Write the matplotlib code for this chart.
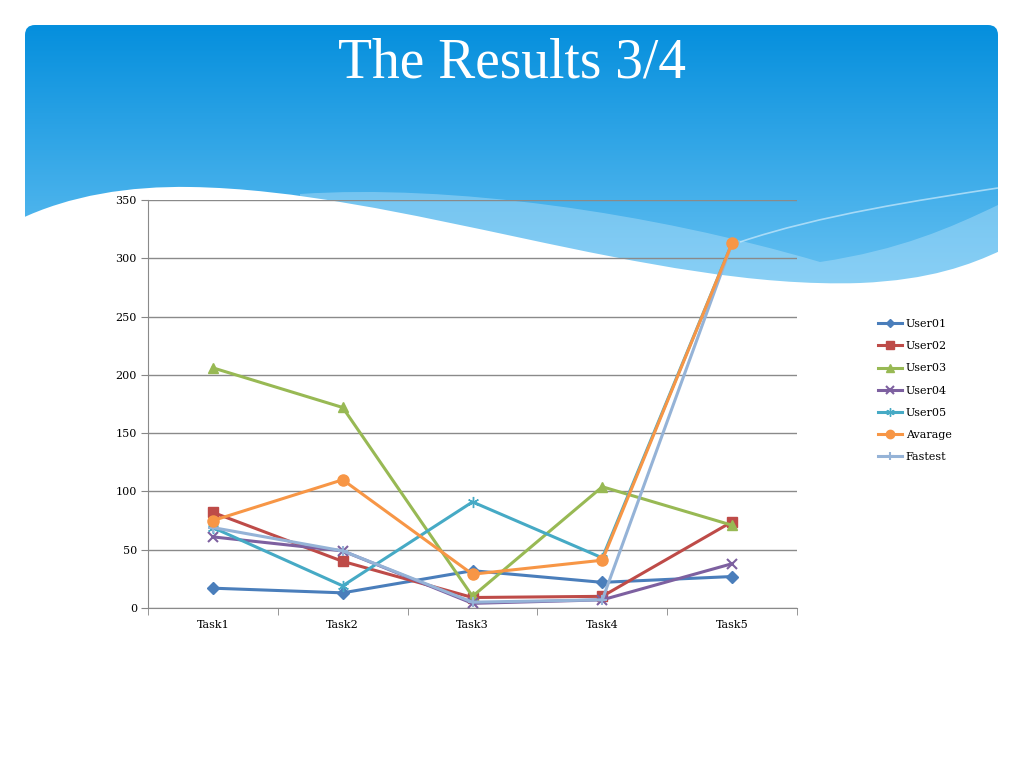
import numpy as np
import matplotlib.pyplot as plt
from matplotlib.patches import FancyBboxPatch, PathPatch
from matplotlib.path import Path

tasks = ["Task1", "Task2", "Task3", "Task4", "Task5"]
user01 = [17, 13, 32, 22, 27]
user02 = [82, 40, 9, 10, 74]
user03 = [206, 172, 10, 104, 71]
user04 = [61, 49, 4, 7, 38]
user05 = [69, 19, 91, 43, 313]
avarage = [75, 110, 29, 41, 313]
fastest = [69, 49, 5, 7, 313]

series = [
    ("User01", user01, "#4A7EBB", "D", 6),
    ("User02", user02, "#BE4B48", "s", 7),
    ("User03", user03, "#98B954", "^", 7),
    ("User04", user04, "#7D60A0", "x", 7),
    ("User05", user05, "#46AAC5", (6, 2, 0), 8),
    ("Avarage", avarage, "#F79646", "o", 8),
    ("Fastest", fastest, "#95B3D7", "+", 7),
]
order = ["User01", "User02", "User03", "User04", "User05", "Fastest", "Avarage"]

W, H = 1024, 768
fig = plt.figure(figsize=(10.24, 7.68), dpi=100)

# slide background
bg = fig.add_axes([0, 0, 1, 1])
bg.set_xlim(0, W)
bg.set_ylim(H, 0)
bg.axis("off")

grad = np.linspace(0, 1, 256).reshape(-1, 1)
top = np.array([0x05, 0x8F, 0xDD]) / 255
bot = np.array([0x6C, 0xC4, 0xF3]) / 255
img = (top + (bot - top) * grad).reshape(256, 1, 3)
im = bg.imshow(img, extent=[25, 998, 300, 25], aspect="auto", zorder=0)
clip = FancyBboxPatch((25, 25), 973, 300, boxstyle="round,pad=0,rounding_size=10",
                      transform=bg.transData, facecolor="none", edgecolor="none")
bg.add_patch(clip)
im.set_clip_path(clip)

C4 = Path.CURVE4
# lighter band along the wave
band = Path([(300, 194), (450, 184), (650, 212), (820, 262),
             (900, 250), (950, 228), (998, 205),
             (998, 320), (300, 320), (300, 194)],
            [Path.MOVETO, C4, C4, C4, C4, C4, C4,
             Path.LINETO, Path.LINETO, Path.CLOSEPOLY])
bg.add_patch(PathPatch(band, facecolor="#BFE6FB", alpha=0.4, edgecolor="none", zorder=1))
stripe = Path([(740, 242), (820, 215), (920, 200), (998, 188)],
              [Path.MOVETO, C4, C4, C4])
bg.add_patch(PathPatch(stripe, facecolor="none", edgecolor="#CDEBFC", lw=1.2,
                       alpha=0.7, zorder=1))

# white wave
wave = Path([(18, 220), (70, 195), (130, 186), (190, 187),
             (400, 190), (650, 290), (860, 283),
             (930, 280), (970, 265), (1002, 250),
             (1002, 330), (18, 330), (18, 220)],
            [Path.MOVETO, C4, C4, C4, C4, C4, C4, C4, C4, C4,
             Path.LINETO, Path.LINETO, Path.CLOSEPOLY])
bg.add_patch(PathPatch(wave, facecolor="white", edgecolor="none", zorder=2))

bg.text(512, 63, "The Results 3/4", color="white", fontsize=40,
        family="Liberation Serif", ha="center", va="center", zorder=3)

# chart
ax = fig.add_axes([148 / W, 1 - 608 / H, (797 - 148) / W, 408 / H])
ax.patch.set_alpha(0)
x = np.arange(len(tasks))
styles = {}
for name, vals, col, mk, ms in series:
    kw = dict(markeredgewidth=1.5) if mk in ("x", "+") else dict(markeredgecolor=col)
    styles[name] = (vals, col, mk, ms, kw)
handles = {}
for z, name in enumerate(order):
    vals, col, mk, ms, kw = styles[name]
    h, = ax.plot(x, vals, color=col, lw=2.2, marker=mk, markersize=ms,
                 markerfacecolor=col, zorder=3 + z, label=name, **kw)
    handles[name] = h

ax.set_xlim(-0.5, 4.5)
ax.set_ylim(0, 350)
ax.set_yticks(np.arange(0, 351, 50))
ax.set_xticks(x)
ax.set_xticklabels(tasks)
ax.set_xticks(np.arange(-0.5, 4.6, 1), minor=True)
ax.tick_params(axis="x", which="major", length=0, pad=9)
ax.tick_params(axis="x", which="minor", length=5, color="#868686", direction="out")
ax.tick_params(axis="y", length=5, color="#868686", direction="out", pad=3)
for lab in ax.get_xticklabels() + ax.get_yticklabels():
    lab.set_family("DejaVu Serif")
    lab.set_fontsize(8)
ax.grid(axis="y", color="#8A8A8A", lw=1)
ax.set_axisbelow(True)
for s in ["top", "right"]:
    ax.spines[s].set_visible(False)
for s in ["left", "bottom"]:
    ax.spines[s].set_color("#8A8A8A")

leg_names = [s[0] for s in series]
fig.legend([handles[n] for n in leg_names], leg_names, loc="upper left",
           bbox_to_anchor=(868 / W, 1 - 309 / H), frameon=False,
           prop={"family": "DejaVu Serif", "size": 8}, handlelength=2.2,
           labelspacing=1.1, handletextpad=0.3, markerscale=0.75)

fig.savefig("out.png", dpi=100, facecolor="white")
